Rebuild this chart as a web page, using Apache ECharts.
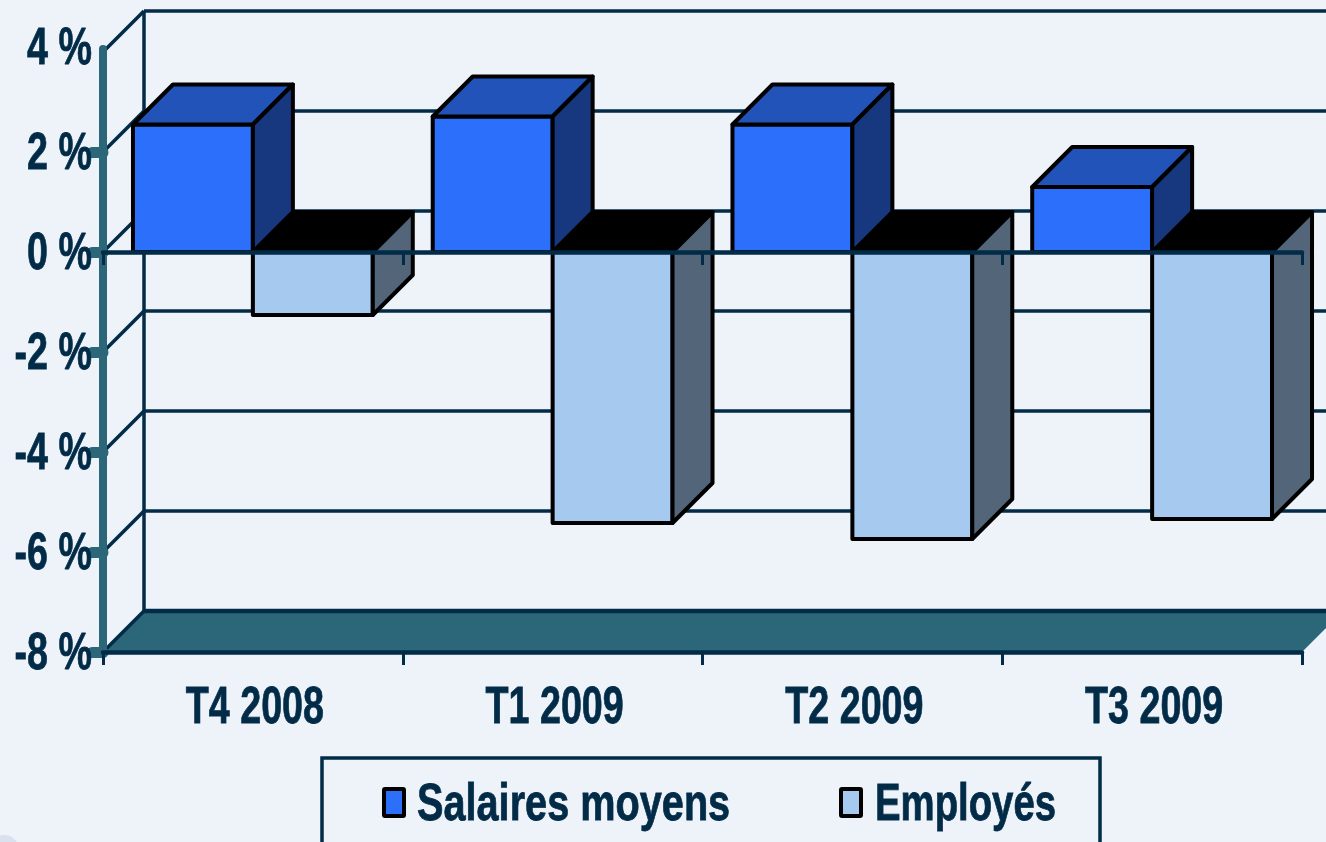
<!DOCTYPE html>
<html>
<head>
<meta charset="utf-8">
<title>Salaires moyens et employés</title>
<script src="https://cdn.jsdelivr.net/npm/echarts@6/dist/echarts.min.js"></script>
<style>
html,body{margin:0;padding:0;background:#eef3fa;overflow:hidden}
#main{width:1326px;height:842px}
</style>
</head>
<body>
<div id="main"></div>
<script>
var categories = ['T4 2008', 'T1 2009', 'T2 2009', 'T3 2009'];
var seriesNames = ['Salaires moyens', 'Employés'];
var salaires = [2.55, 2.71, 2.55, 1.3];
var employes = [-1.26, -5.42, -5.74, -5.34];
var yTicks = [-8, -6, -4, -2, 0, 2, 4];

var font = '"Liberation Sans", Arial, sans-serif';
var ink = '#022b47';
var teal = '#2c6779';
var blue = '#2b6ffb';
var lightBlue = '#a6c9ef';
var depth = 41;      // offset of the back wall
var barDepth = 40;   // offset of the back face of a bar
var barShare = 0.4;  // bar width, as a share of the category
var squeeze = 0.725; // no narrow bold font here, so the labels get squeezed

function face(points, fill) {
    return {
        type: 'polygon',
        shape: {points: points},
        style: {fill: fill, stroke: '#000', lineWidth: 4, lineJoin: 'round'}
    };
}

// one 3d box, colours = [front, top, side]
function boxItem(side, colors) {
    return function (params, api) {
        var c = api.coord([api.value(0), api.value(1)]);
        var base = api.coord([api.value(0), 0]);
        var w = api.size([1, 0])[0] * barShare;
        var x0 = side < 0 ? c[0] - w : c[0];
        var x1 = x0 + w;
        var top = Math.min(c[1], base[1]);
        var bottom = Math.max(c[1], base[1]);
        var d = barDepth;
        return {
            type: 'group',
            children: [
                face([[x0, top], [x1, top], [x1, bottom], [x0, bottom]], colors[0]),
                face([[x0, top], [x1, top], [x1 + d, top - d], [x0 + d, top - d]], colors[1]),
                face([[x1, top], [x1 + d, top - d], [x1 + d, bottom - d], [x1, bottom]], colors[2])
            ]
        };
    };
}

function line(x1, y1, x2, y2, width) {
    return {
        type: 'line',
        shape: {x1: x1, y1: y1, x2: x2, y2: y2},
        style: {stroke: ink, lineWidth: width || 3.5}
    };
}

// back wall lines and floor
function wallItem(params, api) {
    var tick = api.value(1);
    var p = api.coord([0, tick]);
    var band = api.size([1, 0])[0];
    var left = p[0] - band / 2;
    var right = left + band * categories.length;
    var children = [
        line(left, p[1], left + depth, p[1] - depth),
        line(left + depth, p[1] - depth, right + depth, p[1] - depth)
    ];
    if (tick === yTicks[0]) {
        var q = api.coord([0, yTicks[yTicks.length - 1]]);
        children = [
            line(left + depth, q[1] - depth, left + depth, p[1] - depth),
            {
                type: 'polygon',
                shape: {points: [[left, p[1]], [left + depth, p[1] - depth], [right + depth, p[1] - depth], [right, p[1]]]},
                style: {fill: teal}
            },
            line(left, p[1], left + depth, p[1] - depth),
            line(left + depth, p[1] - depth, right + depth, p[1] - depth, 4.5)
        ];
    }
    if (tick === yTicks[yTicks.length - 1]) {
        // the axis bar sticks out a little above its last tick
        children.push({
            type: 'line',
            shape: {x1: left, y1: p[1], x2: left, y2: p[1] - 3},
            style: {stroke: teal, lineWidth: 8, lineCap: 'round'}
        });
    }
    return {type: 'group', children: children};
}

function labelText(text, x, y, align) {
    return {
        type: 'text',
        x: x,
        y: y,
        scaleX: squeeze,
        style: {
            text: text,
            align: align,
            verticalAlign: 'middle',
            fontFamily: font,
            fontWeight: 'bold',
            fontSize: 52,
            fill: ink,
            stroke: ink,
            lineWidth: 0.8
        }
    };
}

function yLabelItem(params, api) {
    var tick = api.value(1);
    var p = api.coord([0, tick]);
    var left = p[0] - api.size([1, 0])[0] / 2;
    var lift = tick === yTicks[yTicks.length - 1] ? 5 : 0;
    return labelText(tick + ' %', left - 11, p[1] + 3 - lift, 'right');
}

function xLabelItem(params, api) {
    var p = api.coord([api.value(0), yTicks[0]]);
    return labelText(categories[api.value(0)], p[0] + 2, p[1] + 57, 'center');
}

function legendEntry(i, iconX, textX, scale, fill) {
    return [
        {type: 'rect', shape: {x: iconX, y: 789, width: 20, height: 27, r: 1}, style: {fill: fill, stroke: '#000', lineWidth: 4}},
        {
            type: 'text',
            x: textX,
            y: 806,
            scaleX: scale,
            style: {text: seriesNames[i], verticalAlign: 'middle', fontFamily: font, fontWeight: 'bold', fontSize: 52, fill: ink, stroke: ink, lineWidth: 0.8}
        }
    ];
}

var option = {
    backgroundColor: '#eef3fa',
    animation: false,
    grid: {left: 103, right: 24, top: 52, bottom: 190, outerBoundsMode: 'none'},
    graphic: [
        {type: 'rect', shape: {x: 322, y: 758, width: 778, height: 120}, style: {fill: 'none', stroke: ink, lineWidth: 3.5}},
        {type: 'circle', shape: {cx: 4, cy: 850, r: 15}, style: {fill: '#d9e1ee'}}
    ].concat(legendEntry(0, 384, 417, 0.763, blue), legendEntry(1, 841, 875, 0.737, lightBlue)),
    xAxis: [
        {
            type: 'category',
            data: categories,
            position: 'bottom',
            z: 10,
            axisLine: {onZero: false, lineStyle: {color: ink, width: 4.5}},
            axisTick: {show: true, length: 13, lineStyle: {color: ink, width: 3}},
            axisLabel: {show: false},
            splitLine: {show: false}
        },
        {
            type: 'category',
            data: categories,
            position: 'top',
            z: 10,
            axisLine: {onZero: true, lineStyle: {color: ink, width: 4.5}},
            axisTick: {show: true, inside: true, length: 13, lineStyle: {color: ink, width: 3}},
            axisLabel: {show: false},
            splitLine: {show: false}
        }
    ],
    yAxis: {
        type: 'value',
        min: -8,
        max: 4,
        interval: 2,
        z: 5,
        axisLine: {show: true, onZero: false, lineStyle: {color: teal, width: 8, cap: 'round'}},
        axisTick: {show: true, length: 11, customValues: [-8, -6, -4, -2, 0, 2], lineStyle: {color: teal, width: 11, cap: 'round'}},
        axisLabel: {show: false},
        splitLine: {show: false}
    },
    series: [
        {
            type: 'custom',
            z: 1,
            renderItem: wallItem,
            data: yTicks.map(function (t) { return [0, t]; })
        },
        {
            name: seriesNames[1],
            type: 'custom',
            z: 3,
            renderItem: boxItem(1, [lightBlue, '#000000', '#526579']),
            data: employes.map(function (v, i) { return [i, v]; })
        },
        {
            name: seriesNames[0],
            type: 'custom',
            z: 4,
            renderItem: boxItem(-1, [blue, '#2153b8', '#17377f']),
            data: salaires.map(function (v, i) { return [i, v]; })
        },
        {
            type: 'custom',
            z: 11,
            renderItem: yLabelItem,
            data: yTicks.map(function (t) { return [0, t]; })
        },
        {
            type: 'custom',
            z: 11,
            renderItem: xLabelItem,
            data: categories.map(function (c, i) { return [i, 0]; })
        }
    ]
};

var myChart = echarts.init(document.getElementById('main'));
myChart.setOption(option);
</script>
</body>
</html>
